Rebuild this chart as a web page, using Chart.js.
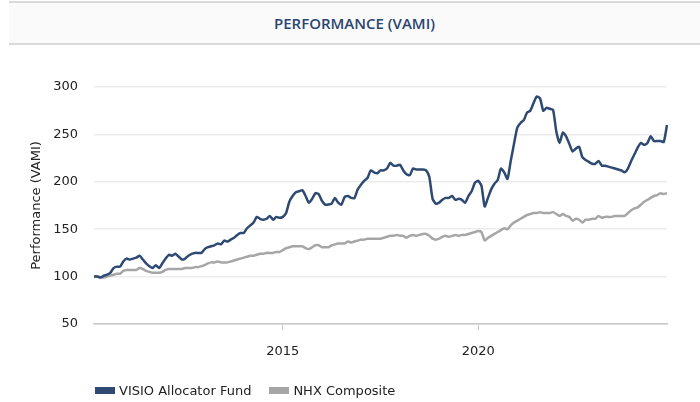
<!DOCTYPE html>
<html>
<head>
<meta charset="utf-8">
<script src="https://cdn.jsdelivr.net/npm/chart.js@4"></script>
<style>
  html, body { margin: 0; padding: 0; background: #fff; }
  #wrap { position: relative; width: 700px; height: 402px; overflow: hidden; }
  #titulo {
    position: absolute; left: 9px; right: 0; top: 1px; height: 40px;
    background: #fafafa;
    border-top: 2px solid #d9d9d9; border-bottom: 2px solid #d9d9d9;
    font: 600 15px "Open Sans", sans-serif; color: #2b4570;
    display: flex; align-items: center; justify-content: center;
  }
  #grafico { position: absolute; left: 0; top: 0; }
  #legenda {
    position: absolute; left: 95px; top: 383px;
    display: flex; align-items: center;
    font: 13px "DejaVu Sans", sans-serif; color: #222;
  }
  .item { display: flex; align-items: center; margin-right: 18px; }
  .caixa { width: 20px; height: 7px; margin-right: 4px; }
</style>
</head>
<body>
<div id="wrap">
  <div id="titulo">PERFORMANCE (VAMI)</div>
  <canvas id="grafico" width="700" height="402"></canvas>
  <div id="legenda"></div>
</div>
<script>
// ─── Dados (mensal, mar/2010 → nov/2024) ─────────────
const FUNDO = [
  100,100,99,101,102,104,109,110.5,110.5,116,
  119,118,119,120,122,118,114,111,109,112,
  109,114,119,123,122,124,121,118,119,122,
  124,125,125,125,129,131,132,133,135,134,
  138,137,139,141,144,146,146,151,154,157,
  163,161,160,161,164,160,163,162,163,167,
  179,185,189,190,191,185,178,182,188,187,
  180,176,176,177,183,178,176,184,185,183,
  183,192,197,201,204,212,210,209,212,212,
  214,220,217,217,218,212,208,207,214,213,
  213,213,212,205,182,177,178,181,183,183,
  185,181,182,181,178,185,190,199,201,196,
  174,183,192,198,202,214,210,203,222,240,
  257,262,265,273,275,283,290,288,275,278,
  277,276,253,241,252,248,240,232,235,237,
  226,223,221,219,219,222,217,217,216,215,
  214,213,212,210,214,222,229,236,241,239,
  241,248,243,243,243,242,260,
];
const INDICE = [
  100,100,99.5,99,100,101,102,103,103,106,
  107,107,107,107,109,108,106,105,104,104,
  104,105,107,108,108,108,108,108,109,109,
  109,110,110,111,112,114,115,115,116,115,
  115,115,116,117,118,119,120,121,122,122,
  123,124,124,125,125,125,126,126,128,130,
  131,132,132,132,132,130,129,131,133,133,
  131,131,131,133,134,135,135,135,137,136,
  137,138,139,139,140,140,140,140,140,141,
  142,143,143,144,143,143,141,143,144,143,
  144,145,145,143,140,139,140,142,143,142,
  143,144,143,144,144,145,146,147,148,147,
  138,141,143,145,147,149,151,150,154,157,
  159,161,163,165,166,167,167,168,167,167,
  167,168,166,164,166,164,163,159,161,160,
  157,160,160,161,161,164,162,163,163,163,
  164,164,164,164,167,170,172,173,176,179,
  181,183,185,186,188,187,188,
];
const SERIES = ['VISIO Allocator Fund', 'NHX Composite'];
const ANOS_EIXO = ['2015', '2020'];
const TICKS_Y = [50, 100, 150, 200, 250, 300];

// rótulos mensais a partir de mar/2010
const MESES = FUNDO.map((_, i) => {
  const m = 2 + i;
  return `${2010 + Math.floor(m / 12)}-${String(m % 12 + 1).padStart(2, '0')}`;
});

// ─── Cores ───────────────────────────────────────────
const CORES = { azul: '#2e4a72', cinza: '#a6a6a6' };

const FONTE = { family: "'DejaVu Sans', sans-serif", size: 13 };

// ─── Gráfico ─────────────────────────────────────────
new Chart(document.getElementById('grafico').getContext('2d'), {
  type: 'line',
  data: {
    labels: MESES,
    datasets: [
      { label: SERIES[0], data: FUNDO,  borderColor: CORES.azul,  borderWidth: 2.5 },
      { label: SERIES[1], data: INDICE, borderColor: CORES.cinza, borderWidth: 2.5 },
    ],
  },
  options: {
    responsive: false,
    animation: false,
    devicePixelRatio: 1,
    layout: { padding: { top: 87, right: 33, left: 0, bottom: 0 } },
    elements: { point: { radius: 0 }, line: { tension: 0.2, borderJoinStyle: 'round' } },
    plugins: { legend: { display: false }, tooltip: { enabled: false } },
    scales: {
      x: {
        afterFit: s => { s.height = 78; },
        grid: { drawOnChartArea: false, drawTicks: true, tickLength: 6, color: '#c8c8c8', lineWidth: 1 },
        border: { color: '#c8c8c8', width: 1.5 },
        ticks: {
          autoSkip: false, maxRotation: 0, padding: 14, color: '#222', font: FONTE,
          callback(v) {
            const l = this.getLabelForValue(v);
            return l.endsWith('-01') && ANOS_EIXO.includes(l.slice(0, 4)) ? l.slice(0, 4) : null;
          },
        },
      },
      y: {
        min: TICKS_Y[0], max: TICKS_Y[TICKS_Y.length - 1],
        afterFit: s => { s.width = 94; },
        afterBuildTicks: s => { s.ticks = TICKS_Y.map(value => ({ value })); },
        grid: { drawTicks: false, color: '#ececec', lineWidth: 1.5 },
        border: { display: false },
        ticks: { padding: 16, color: '#222', font: FONTE },
        title: {
          display: true, text: 'Performance (VAMI)', color: '#222', font: FONTE,
          padding: { top: 29, bottom: 0 },
        },
      },
    },
  },
});

// ─── Legenda manual ──────────────────────────────────
document.getElementById('legenda').innerHTML = SERIES.map((s, i) => `
  <span class="item"><span class="caixa" style="background:${i ? CORES.cinza : CORES.azul}"></span>${s}</span>
`).join('');
</script>
</body>
</html>
